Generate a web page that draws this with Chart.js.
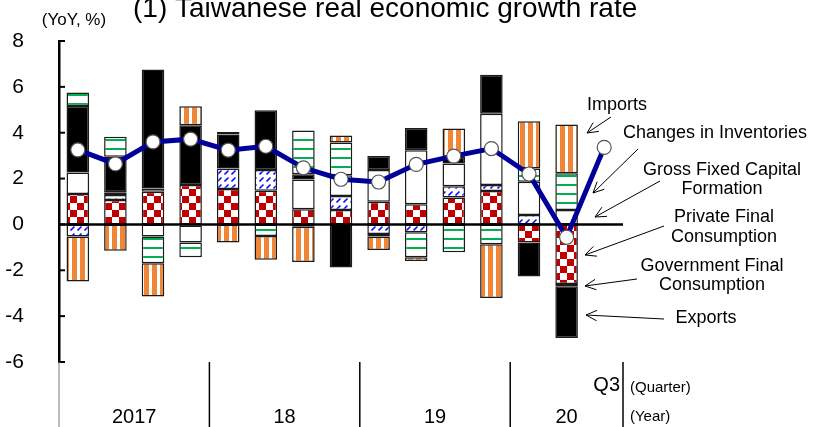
<!DOCTYPE html>
<html>
<head>
<meta charset="utf-8">
<script src="https://cdn.jsdelivr.net/npm/chart.js@4.4.1/dist/chart.umd.min.js"></script>
<style>
    html, body { margin: 0; padding: 0; background: #ffffff; }
    #wrap { width: 814px; height: 427px; }
</style>
</head>
<body>
<div id="wrap"><canvas id="growthChart" width="814" height="427"></canvas></div>
<script>
// ------------------------------------------------------------ DATA ------------------------------------------------------------
const quarters = ['2017Q1', '2017Q2', '2017Q3', '2017Q4', '2018Q1', '2018Q2', '2018Q3', '2018Q4',
                  '2019Q1', '2019Q2', '2019Q3', '2019Q4', '2020Q1', '2020Q2', '2020Q3'];
const yearLabels = ['2017', '18', '19', '20'];
const quarterLabel = 'Q3';

const privateConsumption = [1.33, 1.07, 1.43, 1.72, 1.54, 1.47, 0.66, 0.63, 0.99, 0.88, 1.17, 1.46, -0.79, -2.60, null];
const govConsumption     = [-0.53, 0.21, 0.14, -0.05, 0.90, 0.90, -0.10, 0.61, -0.42, -0.34, 0.50, 0.26, 0.41, -0.10, null];
const fixedCapital       = [0.94, 0.12, -0.53, -0.74, 0.00, 0.00, 1.30, 0.91, 1.38, 2.36, 0.99, 3.11, 1.45, 0.63, null];
const exportsData        = [2.90, 1.55, 5.19, 2.61, 1.48, 2.61, 0.23, -1.88, 0.61, 0.97, 0.29, 1.70, -1.48, -2.25, null];
const inventories        = [0.58, 0.87, -1.16, -0.64, 0.11, -0.50, 1.91, 1.42, -0.11, -1.09, -1.21, -0.86, 0.58, 1.60, null];
const importsData        = [-1.96, -1.15, -1.45, 0.82, -0.79, -1.04, -1.54, 0.31, -0.58, -0.16, 1.23, -2.35, 2.06, 2.13, null];
const realGrowth         = [3.25, 2.64, 3.60, 3.72, 3.24, 3.41, 2.47, 1.97, 1.85, 2.62, 2.98, 3.31, 2.20, -0.56, 3.36];

const yTicks = [8, 6, 4, 2, 0, -2, -4, -6];

// ------------------------------------------------------------ PATTERNS ------------------------------------------------------------
function makePattern(w, h, draw) {
    const c = document.createElement('canvas');
    c.width = w;
    c.height = h;
    const g = c.getContext('2d');
    g.fillStyle = '#ffffff';
    g.fillRect(0, 0, w, h);
    draw(g, w, h);
    return g.createPattern(c, 'repeat');
}

const checkerRed = makePattern(14, 14, (g) => {
    g.fillStyle = '#c00000';
    g.fillRect(0, 0, 7, 7);
    g.fillRect(7, 7, 7, 7);
});

const blueHatch = makePattern(7, 7, (g) => {
    g.strokeStyle = '#1010ff';
    g.lineWidth = 1.6;
    g.beginPath();
    g.moveTo(0.5, 6.5);
    g.lineTo(4.5, 2.5);
    g.stroke();
});

const greenLines = makePattern(4, 9, (g) => {
    g.fillStyle = '#00b050';
    g.fillRect(0, 4, 4, 2);
});

const orangeStripes = makePattern(8, 4, (g) => {
    g.fillStyle = '#ef8535';
    g.fillRect(0, 0, 5, 4);
});

// ------------------------------------------------------------ ANNOTATIONS ------------------------------------------------------------
const notes = [
    {lines: ['Imports'], x: 617, y: [105], from: [611, 117], to: [587, 133]},
    {lines: ['Changes in Inventories'], x: 715, y: [133], from: [638, 149], to: [593, 193]},
    {lines: ['Gross Fixed Capital', 'Formation'], x: 722, y: [170, 189], from: [660, 181], to: [595, 217]},
    {lines: ['Private Final', 'Consumption'], x: 724, y: [217, 237], from: [664, 226], to: [585, 255]},
    {lines: ['Government Final', 'Consumption'], x: 712, y: [266, 285], from: [637, 279], to: [585, 286]},
    {lines: ['Exports'], x: 706, y: [318], from: [664, 319], to: [586, 315]}
];

function arrow(ctx, x1, y1, x2, y2) {
    const ang = Math.atan2(y2 - y1, x2 - x1);
    const len = 12, spread = 0.45;
    ctx.beginPath();
    ctx.moveTo(x1, y1);
    ctx.lineTo(x2, y2);
    ctx.moveTo(x2 - len * Math.cos(ang - spread), y2 - len * Math.sin(ang - spread));
    ctx.lineTo(x2, y2);
    ctx.lineTo(x2 - len * Math.cos(ang + spread), y2 - len * Math.sin(ang + spread));
    ctx.stroke();
}

const FONT = '"Liberation Sans", Arial, sans-serif';

const decorPlugin = {
    id: 'decor',
    beforeDatasetDraw(chart, args) {
        // zero line sits above the bars but under the growth line
        if (args.meta.type !== 'line') return;
        const {ctx, chartArea, scales: {y}} = chart;
        const y0 = y.getPixelForValue(0);
        ctx.save();
        ctx.strokeStyle = '#000';
        ctx.lineWidth = 2.5;
        ctx.beginPath();
        ctx.moveTo(chartArea.left, y0);
        ctx.lineTo(chartArea.right, y0);
        ctx.stroke();
        ctx.restore();
    },
    afterDraw(chart) {
        const {ctx, chartArea, scales: {x, y}} = chart;
        ctx.save();

        // inner tick marks on the y axis
        ctx.strokeStyle = '#000';
        ctx.lineWidth = 2;
        yTicks.forEach(v => {
            const py = y.getPixelForValue(v);
            ctx.beginPath();
            ctx.moveTo(chartArea.left, py);
            ctx.lineTo(chartArea.left + 6, py);
            ctx.stroke();
        });

        // title and unit
        ctx.fillStyle = '#000';
        ctx.textAlign = 'left';
        ctx.textBaseline = 'alphabetic';
        ctx.font = '28px ' + FONT;
        ctx.fillText('(1) Taiwanese real economic growth rate', 133, 17);
        ctx.textAlign = 'center';
        ctx.textBaseline = 'middle';
        ctx.font = '17px ' + FONT;
        ctx.fillText('(YoY, %)', 74, 20);

        // year dividers and labels
        const half = (x.getPixelForValue(1) - x.getPixelForValue(0)) / 2;
        const bounds = [0, 4, 8, 12].map(i => x.getPixelForValue(i) - half);
        bounds.push(x.getPixelForValue(quarters.length - 1) + half);
        const top = chartArea.bottom;
        bounds.forEach((bx, i) => {
            ctx.strokeStyle = i === 0 ? '#777' : '#000';
            ctx.lineWidth = i === 0 ? 1 : 1.5;
            ctx.beginPath();
            ctx.moveTo(bx, top);
            ctx.lineTo(bx, 427);
            ctx.stroke();
        });
        ctx.font = '20px ' + FONT;
        yearLabels.forEach((lbl, i) => {
            ctx.fillText(lbl, (bounds[i] + bounds[i + 1]) / 2, 417);
        });
        ctx.textAlign = 'right';
        ctx.fillText(quarterLabel, bounds[4] - 3, 385);
        ctx.textAlign = 'left';
        ctx.font = '15px ' + FONT;
        ctx.fillText('(Quarter)', bounds[4] + 7, 388);
        ctx.fillText('(Year)', bounds[4] + 7, 417);

        // component labels with arrows
        ctx.textAlign = 'center';
        ctx.font = '18px ' + FONT;
        ctx.lineWidth = 1;
        ctx.strokeStyle = '#000';
        notes.forEach(n => {
            n.lines.forEach((t, k) => ctx.fillText(t, n.x, n.y[k]));
            arrow(ctx, n.from[0], n.from[1], n.to[0], n.to[1]);
        });

        ctx.restore();
    }
};

// ------------------------------------------------------------ CHART ------------------------------------------------------------
Chart.defaults.font.family = FONT;
Chart.defaults.color = '#000';

const barStyle = {
    type: 'bar',
    borderColor: '#1a1a1a',
    borderWidth: 1.5,
    borderSkipped: false,
    barPercentage: 0.6,
    categoryPercentage: 1.0,
    stack: 'gdp',
    order: 1
};

const ctx = document.getElementById('growthChart').getContext('2d');
const growthChart = new Chart(ctx, {
    data: {
        labels: quarters,
        datasets: [
            {...barStyle, label: 'Private Final Consumption', data: privateConsumption, backgroundColor: checkerRed},
            {...barStyle, label: 'Government Final Consumption', data: govConsumption, backgroundColor: blueHatch},
            {...barStyle, label: 'Gross Fixed Capital Formation', data: fixedCapital, backgroundColor: '#ffffff'},
            {...barStyle, label: 'Exports', data: exportsData, backgroundColor: '#000000'},
            {...barStyle, label: 'Changes in Inventories', data: inventories, backgroundColor: greenLines},
            {...barStyle, label: 'Imports', data: importsData, backgroundColor: orangeStripes},
            {
                type: 'line',
                label: 'Real GDP',
                data: realGrowth,
                borderColor: '#000099',
                borderWidth: 5,
                pointRadius: 7,
                pointBackgroundColor: '#ffffff',
                pointBorderColor: '#555555',
                pointBorderWidth: 1.2,
                tension: 0,
                order: 0
            }
        ]
    },
    options: {
        responsive: false,
        animation: false,
        devicePixelRatio: 1,
        layout: {
            padding: {left: 0, top: 41, right: 191, bottom: 65}
        },
        scales: {
            x: {
                display: false,
                stacked: true,
                offset: true
            },
            y: {
                stacked: true,
                min: -6,
                max: 8,
                afterFit(scale) { scale.width = 59; },
                afterBuildTicks(scale) { scale.ticks = yTicks.map(v => ({value: v})); },
                grid: {display: false},
                border: {display: true, color: '#000', width: 2.5},
                ticks: {
                    padding: 27,
                    font: {size: 21},
                    color: '#000'
                }
            }
        },
        plugins: {
            legend: {display: false},
            title: {display: false},
            tooltip: {enabled: false}
        }
    },
    plugins: [decorPlugin]
});
</script>
</body>
</html>
